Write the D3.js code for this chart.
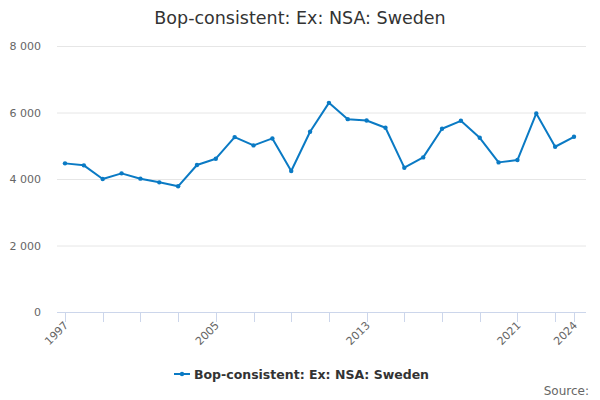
<!DOCTYPE html>
<html>
<head>
<meta charset="utf-8">
<script src="https://cdn.jsdelivr.net/npm/d3@7"></script>
<style>
  body { margin: 0; background: #fff; }
  text { font-family: "DejaVu Sans", sans-serif; }
</style>
</head>
<body>
<div id="chart"></div>
<script>
"use strict";

const years = d3.range(1997, 2025);
const values = [4470, 4410, 4000, 4170, 4010, 3900, 3780, 4420, 4610, 5260,
    5010, 5220, 4240, 5420, 6290, 5800, 5760, 5540, 4340, 4650,
    5510, 5750, 5240, 4500, 4570, 5970, 4970, 5270];
const yTicks = [0, 2000, 4000, 6000, 8000];
const xLabelYears = [1997, 2005, 2013, 2021, 2024];
const xTickYears = [1997, 1999, 2001, 2003, 2005, 2007, 2009, 2011, 2013,
    2015, 2017, 2019, 2021, 2023, 2024];
const seriesName = 'Bop-consistent: Ex: NSA: Sweden';

const width = 600;
const height = 400;
const plot = {left: 57, right: 586, top: 46, bottom: 312};
const color = '#0a7ac4';

const svg = d3.select('#chart')
    .append('svg')
    .attr('width', width)
    .attr('height', height);

const x = d3.scaleLinear().domain([1997, 2024]).range([65, 574]);
const y = d3.scaleLinear().domain([0, 8000]).range([plot.bottom, plot.top]);

const fmt = v => d3.format(',')(v).replace(/,/g, ' ');

// title
svg.append('text')
    .attr('x', width / 2)
    .attr('y', 24)
    .attr('text-anchor', 'middle')
    .attr('fill', '#333')
    .style('font-size', '17.5px')
    .text(seriesName);

// gridlines + y labels
svg.append('g')
    .selectAll('line')
    .data(yTicks.filter(d => d > 0))
    .join('line')
    .attr('x1', plot.left)
    .attr('x2', plot.right)
    .attr('y1', d => y(d) + 0.5)
    .attr('y2', d => y(d) + 0.5)
    .attr('stroke', '#e6e6e6');

svg.append('g')
    .selectAll('text')
    .data(yTicks)
    .join('text')
    .attr('x', 41)
    .attr('y', d => y(d) + 4)
    .attr('text-anchor', 'end')
    .attr('fill', '#666')
    .style('font-size', '11px')
    .text(fmt);

// x axis
svg.append('line')
    .attr('x1', plot.left)
    .attr('x2', plot.right)
    .attr('y1', plot.bottom + 0.5)
    .attr('y2', plot.bottom + 0.5)
    .attr('stroke', '#ccd6eb');

svg.append('g')
    .selectAll('line')
    .data(xTickYears)
    .join('line')
    .attr('x1', d => Math.round(x(d)) + 0.5)
    .attr('x2', d => Math.round(x(d)) + 0.5)
    .attr('y1', plot.bottom)
    .attr('y2', plot.bottom + 10)
    .attr('stroke', '#ccd6eb');

svg.append('g')
    .selectAll('text')
    .data(xLabelYears)
    .join('text')
    .attr('text-anchor', 'end')
    .attr('fill', '#666')
    .style('font-size', '11px')
    .attr('transform', d => `translate(${x(d) + 4},${plot.bottom + 14}) rotate(-45)`)
    .text(d => d);

// series
const line = d3.line()
    .x((d, i) => x(years[i]))
    .y(d => y(d));

svg.append('path')
    .datum(values)
    .attr('d', line)
    .attr('fill', 'none')
    .attr('stroke', color)
    .attr('stroke-width', 2)
    .attr('stroke-linejoin', 'round');

svg.append('g')
    .selectAll('circle')
    .data(values)
    .join('circle')
    .attr('cx', (d, i) => x(years[i]))
    .attr('cy', d => y(d))
    .attr('r', 2.2)
    .attr('fill', color);

// legend
const legend = svg.append('g').attr('transform', 'translate(174,374)');
legend.append('line')
    .attr('x1', 0).attr('x2', 16)
    .attr('y1', 0).attr('y2', 0)
    .attr('stroke', color)
    .attr('stroke-width', 2);
legend.append('circle')
    .attr('cx', 8).attr('cy', 0).attr('r', 2.2)
    .attr('fill', color);
legend.append('text')
    .attr('x', 20)
    .attr('y', 4.5)
    .attr('fill', '#333')
    .style('font-size', '12.5px')
    .style('font-weight', 'bold')
    .text(seriesName);

// credits
svg.append('text')
    .attr('x', 589)
    .attr('y', 395)
    .attr('text-anchor', 'end')
    .attr('fill', '#666')
    .style('font-size', '12px')
    .text('Source:');
</script>
</body>
</html>
